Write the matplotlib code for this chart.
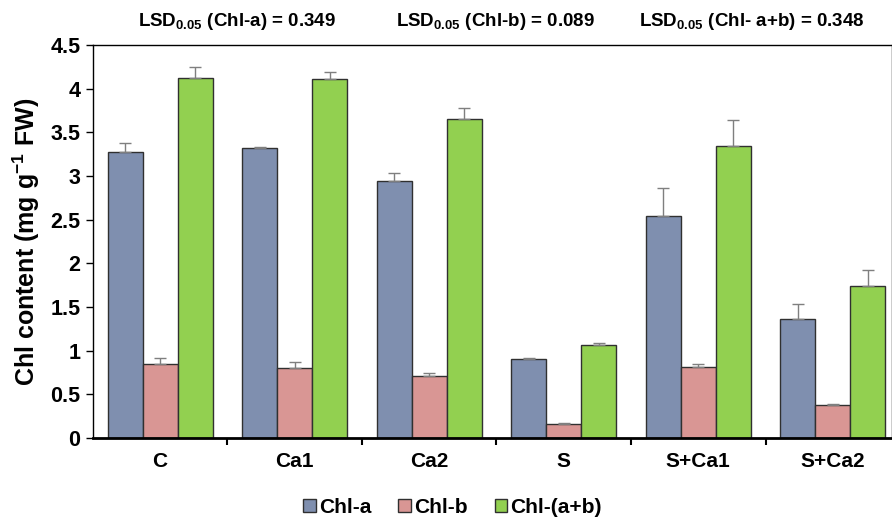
import numpy as np
import matplotlib.pyplot as plt

# treatments and measured chlorophyll values (mg g-1 FW)
groups = ['C', 'Ca1', 'Ca2', 'S', 'S+Ca1', 'S+Ca2']
chl_a = [3.28, 3.32, 2.94, 0.90, 2.54, 1.36]
chl_b = [0.85, 0.80, 0.71, 0.16, 0.81, 0.38]
chl_ab = [4.13, 4.11, 3.66, 1.06, 3.34, 1.74]
err_a = [0.10, 0.01, 0.10, 0.02, 0.32, 0.17]
err_b = [0.07, 0.07, 0.03, 0.01, 0.04, 0.01]
err_ab = [0.12, 0.08, 0.12, 0.03, 0.30, 0.18]
series_names = ['Chl-a', 'Chl-b', 'Chl-(a+b)']
lsd_labels = ['LSD$_{0.05}$ (Chl-a) = 0.349', 'LSD$_{0.05}$ (Chl-b) = 0.089',
              'LSD$_{0.05}$ (Chl- a+b) = 0.348']

plt.rcParams['font.family'] = ['Liberation Sans', 'DejaVu Sans']
plt.rcParams['font.weight'] = 'bold'
plt.rcParams['mathtext.default'] = 'bf'
plt.rcParams['mathtext.fontset'] = 'custom'
plt.rcParams['mathtext.bf'] = 'Liberation Sans:bold'
plt.rcParams['mathtext.rm'] = 'Liberation Sans'

fig = plt.figure(figsize=(8.92, 5.2), dpi=100)
ax = fig.add_axes([0.104, 0.158, 0.896, 0.755])

colors = ['#7f8faf', '#d99694', '#92d050']
x = np.arange(len(groups))
w = 0.26
for i, (vals, errs) in enumerate([(chl_a, err_a), (chl_b, err_b), (chl_ab, err_ab)]):
    ax.bar(x + (i - 1) * w, vals, w, color=colors[i], edgecolor='#303030', linewidth=1,
           label=series_names[i], zorder=2)
    ax.errorbar(x + (i - 1) * w, vals, yerr=[np.zeros(len(vals)), errs], fmt='none',
                ecolor='#7f7f7f', elinewidth=1, capsize=4, capthick=1, zorder=3)

ax.set_xlim(-0.5, 5.44)
ax.set_ylim(0, 4.5)
ax.set_yticks(np.arange(0, 4.51, 0.5))
ax.set_yticklabels(['0', '0.5', '1', '1.5', '2', '2.5', '3', '3.5', '4', '4.5'])
ax.set_xticks(x)
ax.set_xticklabels(groups)
ax.set_xticks(np.arange(0.5, 5.0, 1), minor=True)
ax.tick_params(axis='x', which='major', length=0, pad=10, labelsize=15)
ax.tick_params(axis='x', which='minor', length=5, width=1.5, direction='out')
ax.tick_params(axis='y', length=5, width=1, labelsize=15.5, pad=4)
for s in ax.spines.values():
    s.set_linewidth(1)
ax.spines['bottom'].set_linewidth(2)

ax.set_ylabel('Chl content (mg g$^{-1}$ FW)', fontsize=18, fontweight='bold', labelpad=6)

lsd_x = [0.266, 0.555, 0.843]
for lx, t in zip(lsd_x, lsd_labels):
    fig.text(lx, 0.958, t, ha='center', va='center', fontsize=13.5, fontweight='bold')

ax.legend(loc='center', bbox_to_anchor=(0.45, -0.178), ncol=3, frameon=False,
          fontsize=15, handlelength=0.6, handleheight=0.6, handletextpad=0.15,
          columnspacing=1.3)

fig.savefig('out.png', dpi=100)
